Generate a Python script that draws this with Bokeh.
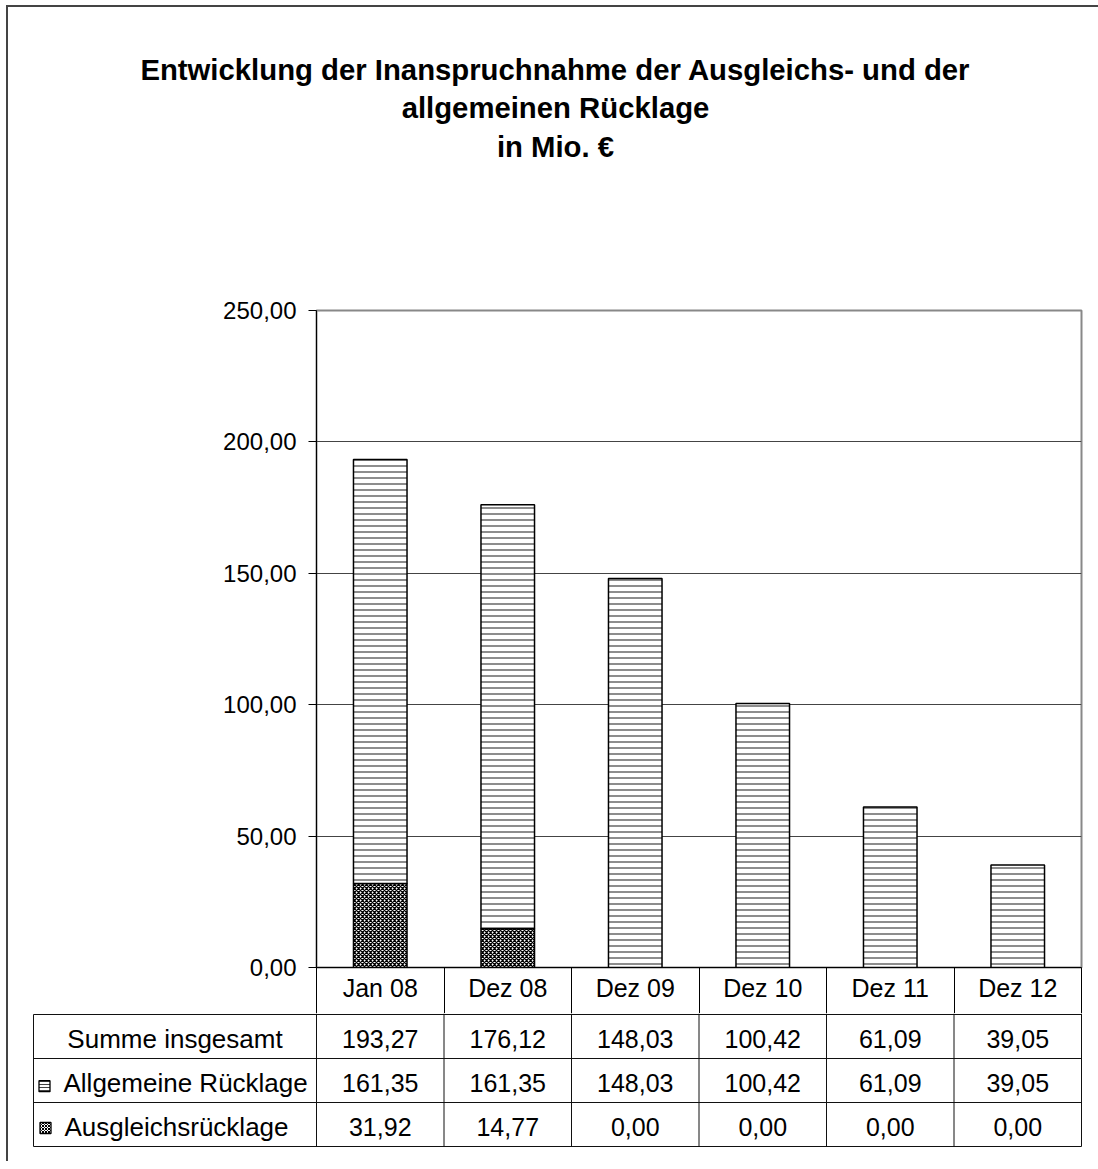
import numpy as np
from bokeh.plotting import figure
from bokeh.models import Range1d, FixedTicker, ColumnDataSource, Spacer
from bokeh.layouts import column, row
from bokeh.core.properties import value
from bokeh.embed import file_html
from bokeh.resources import INLINE

# ---------------- data ----------------
title_text = "Entwicklung der Inanspruchnahme der Ausgleichs- und der\nallgemeinen Rücklage\nin Mio. €"
categories = ["Jan 08", "Dez 08", "Dez 09", "Dez 10", "Dez 11", "Dez 12"]
allgemeine = [161.35, 161.35, 148.03, 100.42, 61.09, 39.05]
ausgleich = [31.92, 14.77, 0.00, 0.00, 0.00, 0.00]
y_ticks = [0, 50, 100, 150, 200, 250]
y_tick_labels = ["0,00", "50,00", "100,00", "150,00", "200,00", "250,00"]
row_labels = ["Summe insgesamt", "Allgemeine Rücklage", "Ausgleichsrücklage"]

FONT = "Liberation Sans"


def de(v):
    return f"{v:.2f}".replace(".", ",")


idx = list(range(len(categories)))
summe = [a + b for a, b in zip(allgemeine, ausgleich)]
bounds = [i - 0.5 for i in range(len(categories) + 1)]

COL_PX = 127.5  # pixels per category


def px2x(page_x):
    return -0.5 + (page_x - 316) / COL_PX


W = 1090

# ---------------- title figure ----------------
p0 = figure(width=W, height=203, x_range=Range1d(0, 1), y_range=Range1d(0, 1),
            output_backend="svg", toolbar_location=None,
            x_axis_location=None, y_axis_location=None,
            min_border_left=4, min_border_right=0, min_border_top=45, min_border_bottom=0)
p0.grid.visible = False
p0.outline_line_color = None
p0.text(x=[0.5], y=[1], text=[title_text], text_align="center", text_baseline="top",
        text_font=value(FONT), text_font_style="bold", text_font_size="29.3px",
        text_line_height=1.17, text_color="black")

# ---------------- chart figure ----------------
p1 = figure(width=W, height=803, x_range=Range1d(-0.5, 5.5), y_range=Range1d(0, 250),
            output_backend="svg", toolbar_location=None,
            min_border_left=308, min_border_right=17, min_border_top=100, min_border_bottom=46)
p1.outline_line_color = "#888888"
p1.outline_line_width = 2

p1.yaxis.ticker = FixedTicker(ticks=y_ticks, minor_ticks=[])
p1.yaxis.major_label_overrides = dict(zip(y_ticks, y_tick_labels))
p1.yaxis.major_label_text_font = FONT
p1.yaxis.major_label_text_font_size = "24px"
p1.yaxis.major_label_text_color = "black"
p1.yaxis.major_tick_out = 8
p1.yaxis.major_tick_in = 0
p1.yaxis.major_tick_line_color = "black"
p1.yaxis.minor_tick_line_color = None
p1.yaxis.axis_line_color = "black"
p1.yaxis.major_label_standoff = 12

p1.xaxis.ticker = FixedTicker(ticks=idx, minor_ticks=bounds)
p1.xaxis.major_label_overrides = dict(zip(idx, categories))
p1.xaxis.major_label_text_font = FONT
p1.xaxis.major_label_text_font_size = "25px"
p1.xaxis.major_label_text_color = "black"
p1.xaxis.major_tick_out = 0
p1.xaxis.major_tick_in = 0
p1.xaxis.minor_tick_out = 46
p1.xaxis.minor_tick_in = 0
p1.xaxis.minor_tick_line_color = "black"
p1.xaxis.axis_line_color = "black"
p1.xaxis.major_label_standoff = -40

p1.xgrid.visible = False
p1.ygrid.ticker = FixedTicker(ticks=y_ticks)
p1.ygrid.grid_line_color = "#444444"
p1.ygrid.grid_line_width = 1

src = ColumnDataSource(dict(x=idx, ausg=ausgleich, allg=allgemeine, total=summe))
p1.vbar(x="x", width=0.42, bottom=0, top="ausg", source=src,
        fill_color="white", line_color="black", line_width=1.5,
        hatch_pattern="diagonal_cross", hatch_color="black", hatch_scale=4, hatch_weight=1.3)
p1.vbar(x="x", width=0.42, bottom="ausg", top="total", source=src,
        fill_color="white", line_color="black", line_width=1.5,
        hatch_pattern="horizontal_line", hatch_color="#666666", hatch_scale=6, hatch_weight=1.5)

# ---------------- table figure ----------------
tl = px2x(33)           # table left edge
pad = 3 / 132.0         # one pixel in row units
p2 = figure(width=W, height=148,
            x_range=Range1d(tl - 1 / COL_PX, 5.5 + 1 / COL_PX), y_range=Range1d(-pad, 3 + pad),
            output_backend="svg", toolbar_location=None,
            x_axis_location=None, y_axis_location=None,
            min_border_left=24, min_border_right=16, min_border_top=0, min_border_bottom=14)
p2.grid.visible = False
p2.outline_line_color = None

hy = [0, 1, 2, 3]
p2.segment(x0=[tl] * len(hy), x1=[5.5] * len(hy), y0=hy, y1=hy, line_color="#111111", line_width=1)
p2.segment(x0=[tl], x1=[tl], y0=[0], y1=[3], line_color="#111111", line_width=1)
p2.segment(x0=bounds, x1=bounds, y0=[0] * len(bounds), y1=[3 + pad] * len(bounds),
           line_color="#111111", line_width=1)

row_y = [2.5, 1.5, 0.5]
row_vals = [summe, allgemeine, ausgleich]
tx, ty, tt = [], [], []
for yv, vals in zip(row_y, row_vals):
    for i, v in zip(idx, vals):
        tx.append(i)
        ty.append(yv)
        tt.append(de(v))
p2.text(x=tx, y=ty, text=tt, text_align="center", text_baseline="middle", y_offset=2,
        text_font=value(FONT), text_font_size="25px", text_color="black")

# row headers
p2.text(x=[(tl - 0.5) / 2], y=[row_y[0]], text=[row_labels[0]], text_align="center", y_offset=2,
        text_baseline="middle", text_font=value(FONT), text_font_size="26px", text_color="black")
p2.text(x=[px2x(63), px2x(64)], y=[row_y[1], row_y[2]], text=row_labels[1:], text_align="left",
        y_offset=2, text_baseline="middle", text_font=value(FONT), text_font_size="26px",
        text_color="black")

# legend icons
p2.rect(x=[px2x(44)], y=[row_y[1] - 0.13], width=11, height=11, width_units="screen", height_units="screen",
        fill_color="white", line_color="black", line_width=1.3,
        hatch_pattern="horizontal_line", hatch_color="#444444", hatch_scale=3, hatch_weight=1)
p2.rect(x=[px2x(45)], y=[row_y[2] - 0.08], width=11, height=11, width_units="screen", height_units="screen",
        fill_color="white", line_color="black", line_width=1.3,
        hatch_pattern="diagonal_cross", hatch_color="black", hatch_scale=3, hatch_weight=1)

# ---------------- frame & layout ----------------
top_bar = Spacer(width=W + 2, height=2, styles={"background-color": "#444444"})
left_bar = Spacer(width=2, height=1154, styles={"background-color": "#444444"})
content = column(row(p0), row(p1), row(p2))
framed = column(top_bar, row(left_bar, content))
layout = column(Spacer(width=10, height=5), row(Spacer(width=6, height=10), framed))

open("out.html", "w").write(file_html(layout, INLINE))
